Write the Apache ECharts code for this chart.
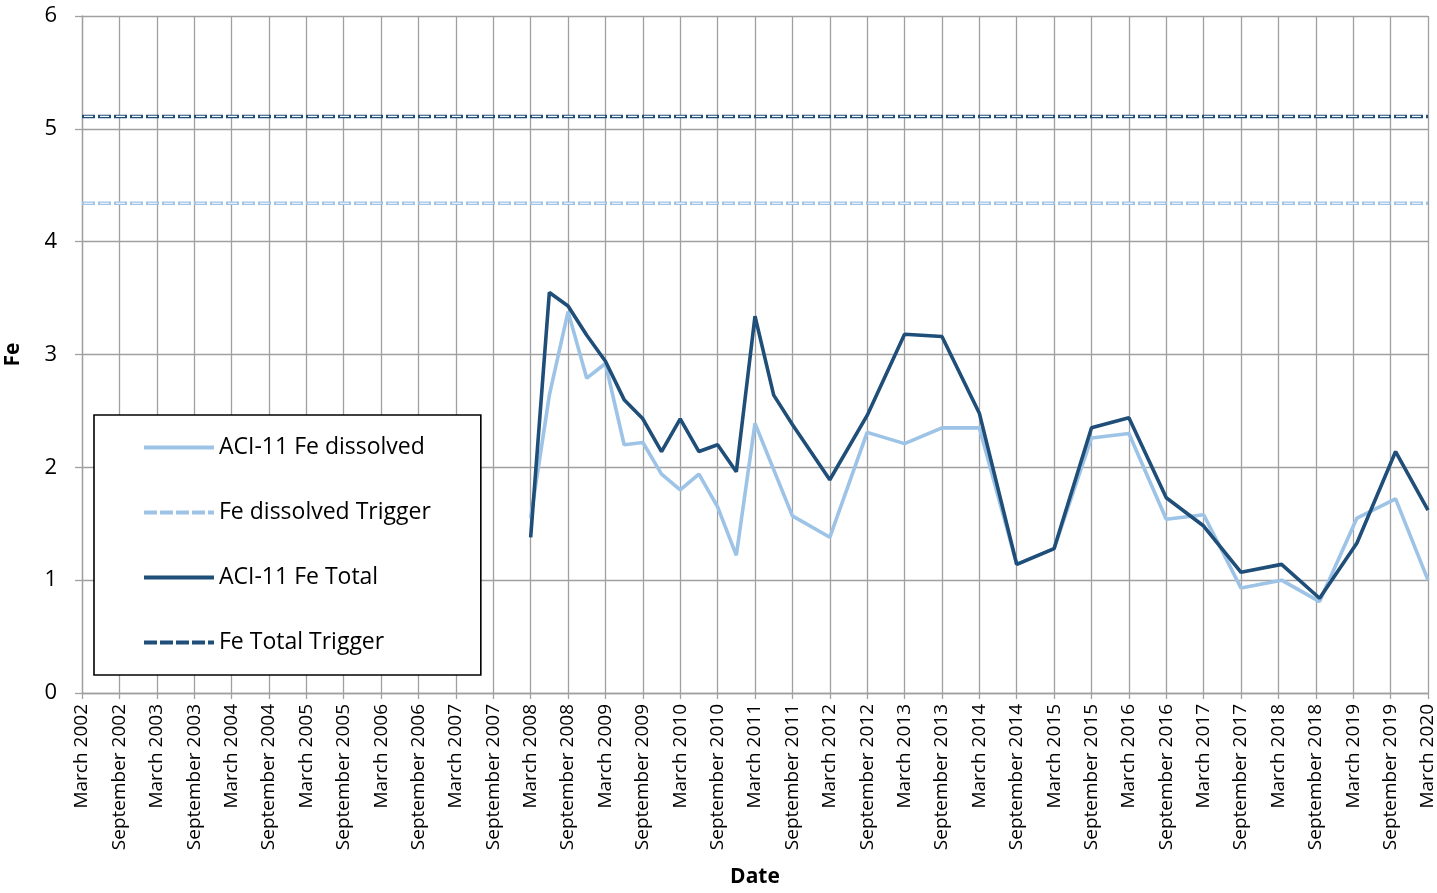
<!DOCTYPE html>
<html>
<head>
<meta charset="utf-8">
<script src="https://cdn.jsdelivr.net/npm/echarts@6/dist/echarts.min.js"></script>
<style>html,body{margin:0;padding:0;background:#fff}#c{width:1437px;height:893px}</style>
</head>
<body>
<div id="c"></div>
<script>
// Months since March 2002 for each sample
const sampleMonths = [72, 75, 78, 81, 84, 87, 90, 93, 96, 99, 102, 105, 108, 111, 114, 120, 126, 132, 138, 144, 150, 156, 162, 168, 174, 180, 186, 192.5, 198.6, 204.6, 210.8, 216];
const feDissolved = [1.55, 2.64, 3.38, 2.79, 2.92, 2.20, 2.22, 1.94, 1.80, 1.94, 1.65, 1.22, 2.39, 1.98, 1.57, 1.38, 2.31, 2.21, 2.35, 2.35, 1.14, 1.28, 2.26, 2.30, 1.54, 1.58, 0.93, 1.00, 0.81, 1.55, 1.72, 1.00];
const feTotal = [1.38, 3.55, 3.43, 3.17, 2.94, 2.60, 2.43, 2.14, 2.43, 2.14, 2.20, 1.96, 3.34, 2.64, 2.38, 1.89, 2.46, 3.18, 3.16, 2.48, 1.14, 1.28, 2.35, 2.44, 1.73, 1.48, 1.07, 1.14, 0.84, 1.33, 2.14, 1.62];
const dissolvedTrigger = 4.34;
const totalTrigger = 5.11;
const axisStartMonth = 0, axisEndMonth = 216;
const tickLabels = ["March 2002","September 2002","March 2003","September 2003","March 2004","September 2004","March 2005","September 2005","March 2006","September 2006","March 2007","September 2007","March 2008","September 2008","March 2009","September 2009","March 2010","September 2010","March 2011","September 2011","March 2012","September 2012","March 2013","September 2013","March 2014","September 2014","March 2015","September 2015","March 2016","September 2016","March 2017","September 2017","March 2018","September 2018","March 2019","September 2019","March 2020"];
const seriesNames = ["ACI-11 Fe dissolved", "Fe dissolved Trigger", "ACI-11 Fe Total", "Fe Total Trigger"];

const LIGHT = '#9dc3e6', DARK = '#1f4e79';
const FONT = 'Open Sans';
const pair = (xs, ys) => xs.map((x, i) => [x, ys[i]]);
const flat = v => [[axisStartMonth, v], [axisEndMonth, v]];

const chart = echarts.init(document.getElementById('c'), null, {renderer: 'canvas'});
chart.setOption({
  animation: false,
  textStyle: {fontFamily: FONT, color: '#000'},
  grid: {left: 82, right: 9, top: 16, bottom: 200, containLabel: false, outerBoundsMode: 'none'},
  xAxis: {
    type: 'value', min: axisStartMonth, max: axisEndMonth, interval: 6,
    name: 'Date', nameLocation: 'middle', nameGap: 174,
    nameTextStyle: {fontFamily: FONT, fontWeight: 'bold', fontSize: 21, color: '#000'},
    axisLine: {show: true, lineStyle: {color: '#a0a0a0', width: 1.3}},
    axisTick: {show: true, length: 6, lineStyle: {color: '#a0a0a0', width: 1.3}},
    splitLine: {show: true, lineStyle: {color: '#a0a0a0', width: 1.3}},
    axisLabel: {
      rotate: 90, fontSize: 19, color: '#000', fontFamily: FONT, margin: 11,
      showMinLabel: true, showMaxLabel: true, hideOverlap: false,
      formatter: v => tickLabels[Math.round(v / 6)] || ''
    }
  },
  yAxis: {
    type: 'value', min: 0, max: 6, interval: 1,
    name: 'Fe', nameLocation: 'middle', nameGap: 58,
    nameTextStyle: {fontFamily: FONT, fontWeight: 'bold', fontSize: 21, color: '#000'},
    axisLine: {show: true, lineStyle: {color: '#a0a0a0', width: 1.3}},
    axisTick: {show: true, length: 7, lineStyle: {color: '#a0a0a0', width: 1.3}},
    splitLine: {show: true, lineStyle: {color: '#a0a0a0', width: 1.3}},
    axisLabel: {fontSize: 22, color: '#000', fontFamily: FONT, margin: 25}
  },
  legend: {
    orient: 'vertical', left: 94, top: 415,
    data: seriesNames,
    itemWidth: 70, itemHeight: 24, itemGap: 42,
    padding: [21, 50, 21, 48],
    backgroundColor: '#fff', borderColor: '#000', borderWidth: 1.6, borderRadius: 0,
    textStyle: {fontSize: 23, fontFamily: FONT, color: '#000'},
    itemStyle: {opacity: 0},
    lineStyle: {width: 4},
    selectedMode: false
  },
  series: [
    {name: seriesNames[0], type: 'line', data: pair(sampleMonths, feDissolved), showSymbol: false, symbol: 'none',
     lineStyle: {color: LIGHT, width: 3.6}, itemStyle: {color: LIGHT}, z: 3},
    {name: seriesNames[1], type: 'line', data: flat(dissolvedTrigger), showSymbol: false, symbol: 'none',
     lineStyle: {color: LIGHT, width: 3.5, type: [13, 3]}, itemStyle: {color: LIGHT}, z: 2},
    {type: 'line', data: flat(dissolvedTrigger), showSymbol: false, symbol: 'none', silent: true,
     lineStyle: {color: '#fff', width: 1.1, type: [9, 7], dashOffset: 14}, z: 2},
    {name: seriesNames[2], type: 'line', data: pair(sampleMonths, feTotal), showSymbol: false, symbol: 'none',
     lineStyle: {color: DARK, width: 3.6}, itemStyle: {color: DARK}, z: 4},
    {name: seriesNames[3], type: 'line', data: flat(totalTrigger), showSymbol: false, symbol: 'none',
     lineStyle: {color: DARK, width: 3.5, type: [13, 3]}, itemStyle: {color: DARK}, z: 2},
    {type: 'line', data: flat(totalTrigger), showSymbol: false, symbol: 'none', silent: true,
     lineStyle: {color: '#fff', width: 1.1, type: [9, 7], dashOffset: 14}, z: 2}
  ]
});
</script>
</body>
</html>
